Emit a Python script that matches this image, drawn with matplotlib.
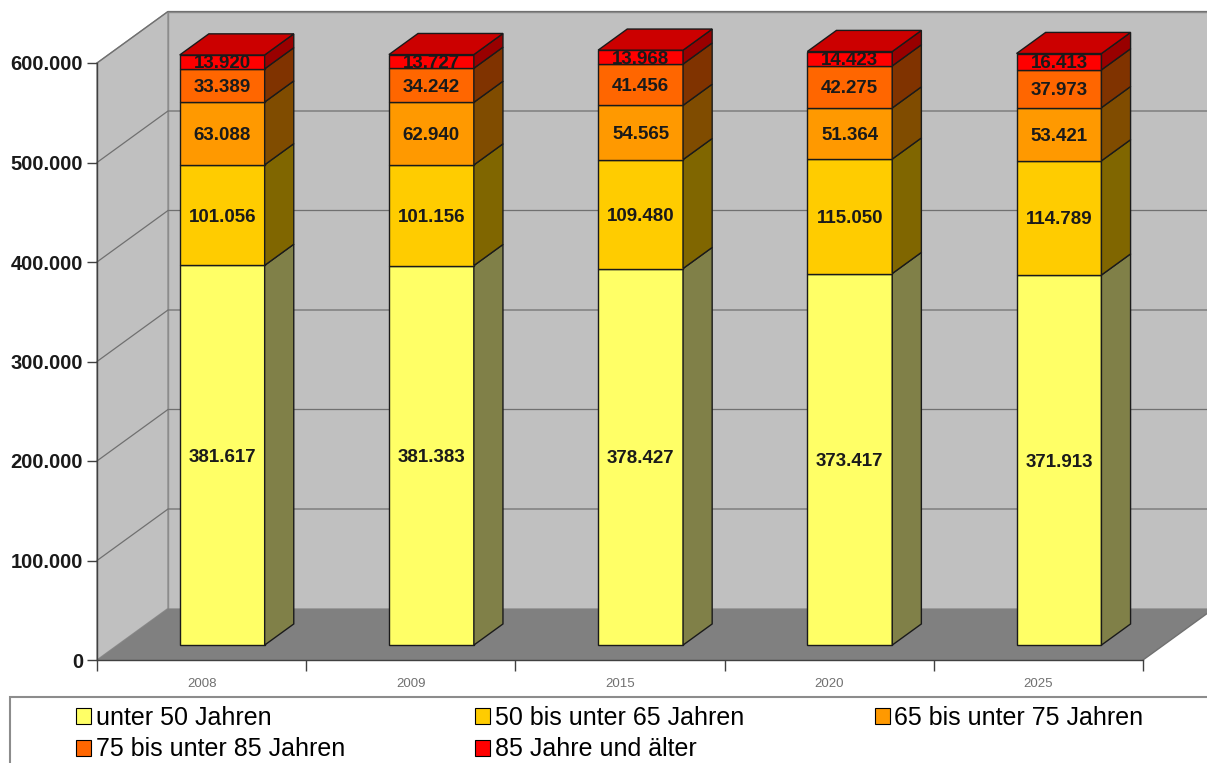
import numpy as np
import matplotlib.pyplot as plt
from matplotlib.patches import Polygon, Patch, Rectangle

plt.rcParams['font.family'] = ['Liberation Sans', 'DejaVu Sans']

# Bevölkerung nach Altersgruppen
years = ['2008', '2009', '2015', '2020', '2025']
groups = ['unter 50 Jahren', '50 bis unter 65 Jahren', '65 bis unter 75 Jahren',
          '75 bis unter 85 Jahren', '85 Jahre und älter']
unter50 = [381617, 381383, 378427, 373417, 371913]
von50bis65 = [101056, 101156, 109480, 115050, 114789]
von65bis75 = [63088, 62940, 54565, 51364, 53421]
von75bis85 = [33389, 34242, 41456, 42275, 37973]
ab85 = [13920, 13727, 13968, 14423, 16413]
yticks = [0, 100000, 200000, 300000, 400000, 500000, 600000]

series = [unter50, von50bis65, von65bis75, von75bis85, ab85]
front_colors = ['#FFFF66', '#FFCC00', '#FF9900', '#FF6600', '#FF0000']
side_colors = ['#808048', '#806600', '#804C00', '#803300', '#990000']
top_color = '#CC0000'


def fmt(v):
    return f'{v:,}'.replace(',', '.')


W, H = 1207, 763
fig = plt.figure(figsize=(W / 100, H / 100), dpi=100)
ax = fig.add_axes([97 / W, (H - 660) / H, (1143 - 97) / W, (660 - 63) / H])
ax.set_xlim(-0.5, 4.5)
ax.set_ylim(0, 600000)
ax.patch.set_visible(False)

# schräge Tiefe der 3D-Darstellung (in Datenkoordinaten)
DX = 71 / 209.2
DY = 51.5 / 597 * 600000
x0, x1 = -0.5, 4.5
ytop = yticks[-1]


def poly(pts, fc, ec, lw, z):
    p = Polygon(pts, closed=True, facecolor=fc, edgecolor=ec, linewidth=lw,
                clip_on=False, zorder=z)
    ax.add_patch(p)
    return p


# Rückwand, Seitenwand, Boden
poly([(x0 + DX, DY), (x1 + DX + 1, DY), (x1 + DX + 1, ytop + DY), (x0 + DX, ytop + DY)],
     '#C0C0C0', '#8C8C8C', 1.0, 0)
poly([(x0, 0), (x0 + DX, DY), (x0 + DX, ytop + DY), (x0, ytop)],
     '#C0C0C0', '#8C8C8C', 1.0, 0)
for v in yticks[1:]:
    ax.plot([x0, x0 + DX, x1 + DX + 1], [v, v + DY, v + DY], color='#707070',
            lw=0.9, clip_on=False, zorder=0.5)
poly([(x0, 0), (x1, 0), (x1 + DX, DY), (x0 + DX, DY)], '#808080', 'none', 0, 0.6)
ax.plot([x1, x1 + DX], [0, DY], color='#707070', lw=1.0, clip_on=False, zorder=0.7)

# gestapelte Säulen
w = 0.406
d0, d1 = 0.29, 0.70
for i in range(len(years)):
    base = 0
    xl, xr = i - w / 2, i + w / 2
    for k, vals in enumerate(series):
        b, t = base, base + vals[i]
        front = poly([(xl + d0 * DX, b + d0 * DY), (xr + d0 * DX, b + d0 * DY),
                      (xr + d0 * DX, t + d0 * DY), (xl + d0 * DX, t + d0 * DY)],
                     front_colors[k], '#1a1a1a', 1.0, 2 + k)
        poly([(xr + d0 * DX, b + d0 * DY), (xr + d1 * DX, b + d1 * DY),
              (xr + d1 * DX, t + d1 * DY), (xr + d0 * DX, t + d0 * DY)],
             side_colors[k], '#1a1a1a', 1.0, 2 + k)
        if k == len(series) - 1:
            poly([(xl + d0 * DX, t + d0 * DY), (xr + d0 * DX, t + d0 * DY),
                  (xr + d1 * DX, t + d1 * DY), (xl + d1 * DX, t + d1 * DY)],
                 top_color, '#1a1a1a', 1.0, 2 + k)
        txt = ax.text(i + d0 * DX, (b + t) / 2 + d0 * DY - 2000, fmt(vals[i]),
                      ha='center', va='center', fontsize=13.5, fontweight='bold',
                      color='#1a1a1a', zorder=10)
        txt.set_clip_path(front)
        base = t

# Achsen
for s in ['top', 'right']:
    ax.spines[s].set_visible(False)
for s in ['left', 'bottom']:
    ax.spines[s].set_color('#404040')
    ax.spines[s].set_linewidth(1.0)
    ax.spines[s].set_zorder(1)

ax.set_yticks(yticks)
ax.set_yticklabels([fmt(v) for v in yticks], fontsize=14.5, fontweight='bold',
                   color='#1a1a1a')
ax.tick_params(axis='y', length=7, width=1, pad=3, color='#404040')

ax.set_xticks(np.arange(x0, x1 + 0.01, 1))
ax.set_xticklabels([])
ax.set_xticks(range(len(years)), minor=True)
ax.set_xticklabels(years, minor=True, fontsize=9.5, color='#707070')
ax.tick_params(axis='x', which='major', length=8, width=1, color='#404040')
ax.tick_params(axis='x', which='minor', length=0, pad=13)

# Legende
handles = [Patch(facecolor=c, edgecolor='black', linewidth=0.8) for c in front_colors]
order = [0, 3, 1, 4, 2]
fig.legend([handles[i] for i in order], [groups[i] for i in order], ncol=3,
           loc='upper left', bbox_to_anchor=(76 / W, (H - 706) / H), frameon=False,
           fontsize=18, handlelength=0.6, handleheight=0.6, handletextpad=0.2,
           columnspacing=5.2, labelspacing=0.3, borderaxespad=0, borderpad=0)
fig.add_artist(Rectangle((10 / W, -0.02), 1.0, (H - 697) / H + 0.02,
                         transform=fig.transFigure, fill=False,
                         edgecolor='#8C8C8C', linewidth=1.5))

fig.savefig('out.png', dpi=100)
